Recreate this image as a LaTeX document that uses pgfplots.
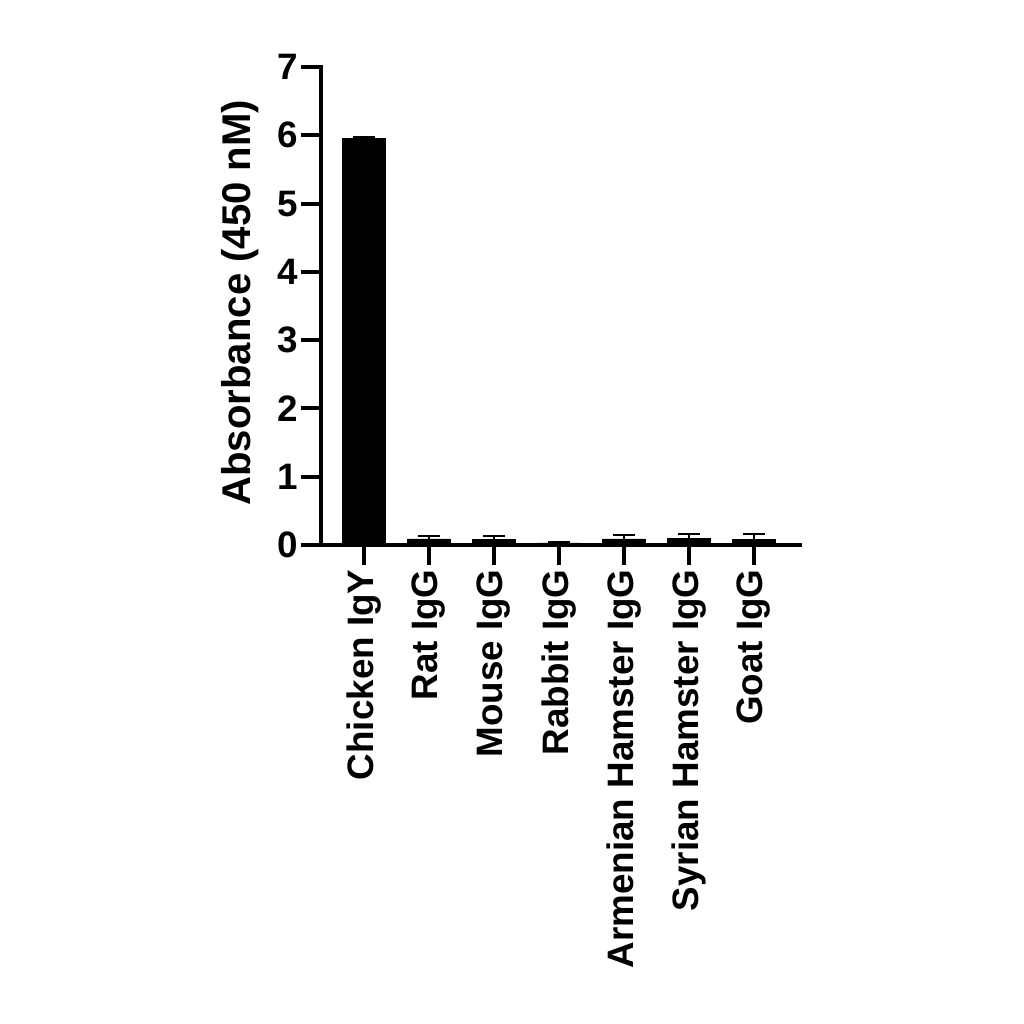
\documentclass[border=0pt]{standalone}
\usepackage{fontspec}
\setmainfont{Liberation Sans}
\usepackage{pgfplots}
\pgfplotsset{compat=1.18}

% 1 px of the reference = 0.01in
\begin{document}
\begin{tikzpicture}
\path[use as bounding box] (-3.21in,-4.79in) rectangle (7.03in,5.45in);
\begin{axis}[
  at={(0,0)}, anchor=south west,
  scale only axis,
  width=4.79in, height=4.78in,
  axis lines*=left,
  axis line style={line width=2.9pt, line cap=rect},
  ybar, bar width=0.43in,
  xmin=-0.66, xmax=6.71,
  ymin=0, ymax=7,
  ytick={0,1,...,7},
  xtick={0,...,6},
  xticklabels={Chicken IgY,Rat IgG,Mouse IgG,Rabbit IgG,Armenian Hamster IgG,Syrian Hamster IgG,Goat IgG},
  tick align=outside,
  major tick length=0.2in,
  tick style={line width=2.9pt, black},
  /pgf/number format/assume math mode=true,
  ticklabel style={font=\fontsize{26.6}{32}\selectfont\bfseries},
  xticklabel style={rotate=90, anchor=east, inner sep=3pt},
  yticklabel style={inner sep=2pt},
  ylabel={Absorbance (450 nM)},
  ylabel style={font=\fontsize{29}{34}\selectfont\bfseries, at={(axis description cs:-0.169,0.507)}, anchor=center},
  clip=false,
]
\addplot[fill=black, draw=black,
  error bars/.cd, y dir=plus, y explicit,
  error bar style={line width=1.5pt, black},
  error mark options={rotate=90, mark size=0.11in, line width=1.5pt}]
coordinates {
  (0,5.95) +- (0,0.03)
  (1,0.09) +- (0,0.04)
  (2,0.08) +- (0,0.05)
  (3,0.03) +- (0,0.01)
  (4,0.09) +- (0,0.05)
  (5,0.10) +- (0,0.06)
  (6,0.08) +- (0,0.08)
};
\end{axis}
\end{tikzpicture}
\end{document}
